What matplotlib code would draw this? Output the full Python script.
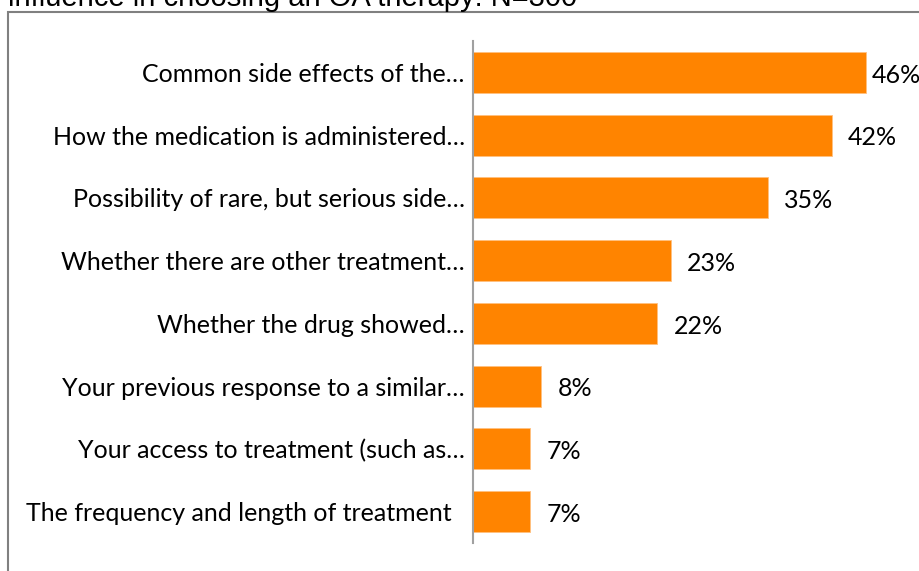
import matplotlib.pyplot as plt
from matplotlib.patches import Rectangle

categories = ['Common side effects of the…',
              'How the medication is administered…',
              'Possibility of rare, but serious side…',
              'Whether there are other treatment…',
              'Whether the drug showed…',
              'Your previous response to a similar…',
              'Your access to treatment (such as…',
              'The frequency and length of treatment  ']
values = [46, 42, 34.5, 23.2, 21.6, 8, 6.7, 6.7]
labels = ['46%', '42%', '35%', '23%', '22%', '8%', '7%', '7%']
title = 'influence in choosing an OA therapy: N=300'

W, H = 920, 571
fig = plt.figure(figsize=(W / 100, H / 100), dpi=100)

# outer border (chart area box, partly clipped by the image edge)
fig.patches.append(Rectangle((8 / W, -0.05), 1.0, 1 - 12 / H + 0.05,
                             transform=fig.transFigure, fill=False,
                             edgecolor='#808080', linewidth=1.5))

fig.text(8 / W, 1 - 6 / H, title, fontsize=21,
         family='Liberation Sans', va='baseline', ha='left', color='black')

ax = fig.add_axes([473 / W, 1 - 543 / H, (W - 473) / W, (543 - 41) / H])
y = list(range(len(categories)))
ax.barh(y, values, height=0.65, color='#FF8400', edgecolor='#FFC080', linewidth=0.6)
xmax = (W - 473) / 8.54
ax.set_ylim(len(categories) - 0.5, -0.5)
ax.set_xlim(0, xmax)
ax.set_yticks(y)
ax.set_yticklabels(categories, fontsize=18, family='Lato')
ax.tick_params(axis='y', length=0, pad=6)
ax.set_xticks([])
for s in ['top', 'right', 'bottom']:
    ax.spines[s].set_visible(False)
ax.spines['left'].set_color('#A0A0A0')
ax.spines['left'].set_linewidth(1.5)

for yi, v, lab in zip(y, values, labels):
    # labels squeeze closer to the bar when there is no room on the right
    off = 4.5 if v > xmax - 7 else 11.5
    ax.annotate(lab, (v, yi), xytext=(off, -2), textcoords='offset points',
                va='center', ha='left', fontsize=18, family='Lato')

fig.savefig('out.png', dpi=100)
